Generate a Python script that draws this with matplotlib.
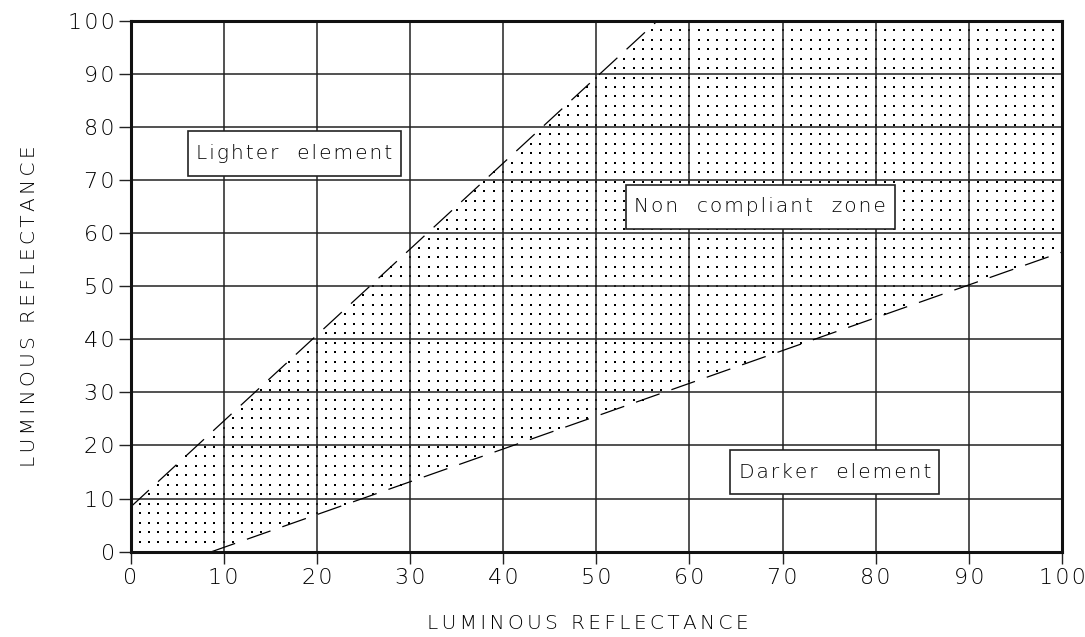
import numpy as np
import matplotlib
matplotlib.use("Agg")
import matplotlib.pyplot as plt
from matplotlib.path import Path
from matplotlib.patches import Rectangle

# Boundaries of the non-compliant zone (luminous reflectance, %)
upper_x = [0.0, 56.6]
upper_y = [8.4, 100.0]
lower_x = [8.7, 100.0]
lower_y = [0.0, 56.4]

ticks = list(range(0, 101, 10))
tick_labels = [str(t) for t in ticks]

zone_labels = ["Lighter  element", "Non  compliant  zone", "Darker  element"]
zone_label_x = [17.6, 67.6, 75.6]
zone_label_y = [75.0, 64.9, 15.0]

axis_title = "LUMINOUS REFLECTANCE"

HAIR = "\u200a"
SIXTH = "\u2006"


def tracked(s, gap=HAIR):
    """Open up letter spacing in the drafting style."""
    return gap.join(s)


INK = "#000000"
FONT = "DejaVu Sans"
WEIGHT = "light"

fig = plt.figure(figsize=(10.85, 6.37), dpi=100)
ax = fig.add_axes([0.1203, 0.1339, 0.9788 - 0.1203, 0.9678 - 0.1339])
ax.set_xlim(0, 100)
ax.set_ylim(0, 100)

# dotted fill of the zone between the two boundary lines
zone = Path([
    (0.0, 0.0),
    (upper_x[0], upper_y[0]),
    (upper_x[1], upper_y[1]),
    (100.0, 100.0),
    (lower_x[1], lower_y[1]),
    (lower_x[0], lower_y[0]),
])
gx, gy = np.meshgrid(np.arange(1.0, 100.0, 1.0), 1.9 + np.arange(0, 56) * 1.783)
pts = np.column_stack([gx.ravel(), gy.ravel()])
inside = zone.contains_points(pts)
ax.plot(pts[inside, 0], pts[inside, 1], ls="none", marker="s", ms=2.0,
        mew=0, color="black", zorder=1)

# boundary lines
dash = (0, (20, 10))
ax.plot(upper_x, upper_y, color="black", lw=0.9, ls=dash, zorder=3)
ax.plot(lower_x, lower_y, color="black", lw=0.9, ls=dash, zorder=3)

# grid and frame
ax.set_xticks(ticks)
ax.set_yticks(ticks)
ax.set_xticklabels([tracked(t) for t in tick_labels], fontsize=16,
                   family=FONT, weight=WEIGHT, color=INK)
ax.set_yticklabels([tracked(t) for t in tick_labels], fontsize=16,
                   family=FONT, weight=WEIGHT, color=INK)
ax.grid(True, color="#222222", lw=1.1, zorder=2)
ax.set_axisbelow(False)
ax.tick_params(axis="both", direction="out", length=8.3, width=1.0,
               color="#222222")
ax.tick_params(axis="x", pad=3.5)
ax.tick_params(axis="y", pad=3)
for sp in ax.spines.values():
    sp.set_linewidth(2.2)
    sp.set_color("#111111")
    sp.set_zorder(4)

# zone captions in framed white boxes
captions = []
for txt, x, y in zip(zone_labels, zone_label_x, zone_label_y):
    captions.append(ax.text(x, y, tracked(txt), ha="center", va="center",
                            fontsize=14.5, family=FONT, weight=WEIGHT,
                            color=INK, zorder=7))

fig.canvas.draw()
renderer = fig.canvas.get_renderer()
inv = ax.transData.inverted()
pad_x, box_h = 8.5, 44.5  # pixels
for t in captions:
    bb = t.get_window_extent(renderer)
    cy = (bb.y0 + bb.y1) / 2
    (x0, y0) = inv.transform((bb.x0 - pad_x, cy - box_h / 2))
    (x1, y1) = inv.transform((bb.x1 + pad_x, cy + box_h / 2))
    ax.add_patch(Rectangle((x0, y0), x1 - x0, y1 - y0, fc="white",
                           ec="#222222", lw=1.2, zorder=6))

# axis titles
ax.set_xlabel(tracked(axis_title, SIXTH), fontsize=14.5, family=FONT,
              weight=WEIGHT, color=INK)
ax.set_ylabel(tracked(axis_title, SIXTH), fontsize=14.5, family=FONT,
              weight=WEIGHT, color=INK)
ax.xaxis.set_label_coords(0.491, -0.117)
ax.yaxis.set_label_coords(-0.098, 0.4625)

fig.savefig("out.png", dpi=100)
